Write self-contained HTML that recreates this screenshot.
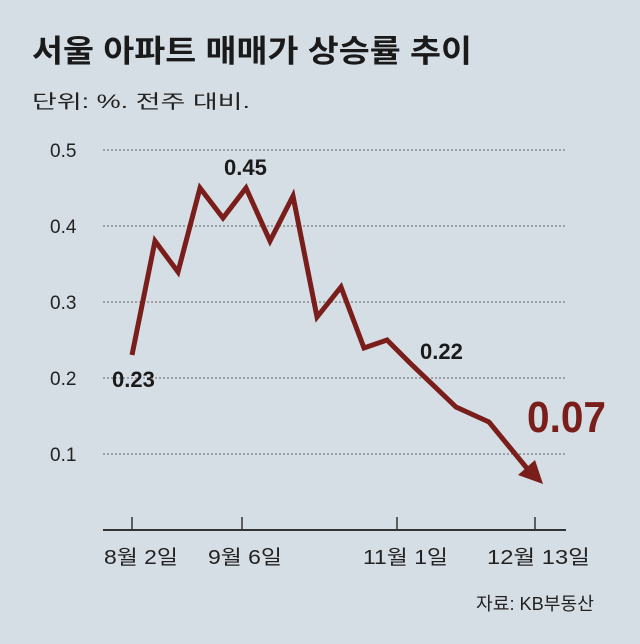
<!DOCTYPE html>
<html><head><meta charset="utf-8"><style>
body{margin:0;width:640px;height:644px;background:#d6dee5;overflow:hidden}
svg{display:block}
text{font-family:"Liberation Sans","Noto Sans CJK KR",sans-serif}
</style></head><body>
<svg width="640" height="644" viewBox="0 0 640 644">
<rect width="640" height="644" fill="#d6dee5"/>
<text x="32" y="62" font-size="31" font-weight="bold" fill="#1a1a1a" textLength="440" lengthAdjust="spacingAndGlyphs">서울 아파트 매매가 상승률 추이</text>
<text x="32" y="108" font-size="19" fill="#222" textLength="218" lengthAdjust="spacingAndGlyphs">단위: %. 전주 대비.</text>
<g stroke="#666" stroke-width="1" stroke-dasharray="2,2">
<line x1="103" y1="150" x2="566" y2="150"/>
<line x1="103" y1="226" x2="566" y2="226"/>
<line x1="103" y1="302" x2="566" y2="302"/>
<line x1="103" y1="378" x2="566" y2="378"/>
<line x1="103" y1="454" x2="566" y2="454"/>
</g>
<g font-size="19" fill="#222">
<text x="50" y="157">0.5</text><text x="50" y="233">0.4</text><text x="50" y="309">0.3</text><text x="50" y="385">0.2</text><text x="50" y="461">0.1</text>
</g>
<line x1="103" y1="530" x2="566" y2="530" stroke="#333" stroke-width="2"/>
<g stroke="#333" stroke-width="1.5">
<line x1="132" y1="517" x2="132" y2="530"/><line x1="242" y1="517" x2="242" y2="530"/>
<line x1="397" y1="517" x2="397" y2="530"/><line x1="535" y1="517" x2="535" y2="530"/>
</g>
<g font-size="20" fill="#222" lengthAdjust="spacingAndGlyphs">
<text x="104" y="564" textLength="74" lengthAdjust="spacingAndGlyphs">8월 2일</text>
<text x="208" y="564" textLength="74" lengthAdjust="spacingAndGlyphs">9월 6일</text>
<text x="363" y="564" textLength="85" lengthAdjust="spacingAndGlyphs">11월 1일</text>
<text x="487" y="564" textLength="103" lengthAdjust="spacingAndGlyphs">12월 13일</text>
</g>
<polyline fill="none" stroke="#7a1e1b" stroke-width="5" stroke-linejoin="miter"
points="132,355 155,241 178,272 200,188 223,218 246,188 270,241 293,196 317,317 341,287 364,348 387,340 410,363 456,407 489,422 530,472"/>
<polygon points="543,484 518,475 535,460" fill="#7a1e1b"/>
<g font-size="22" font-weight="bold" fill="#1a1a1a">
<text x="112" y="387">0.23</text>
<text x="224" y="175">0.45</text>
<text x="420" y="359">0.22</text>
</g>
<text x="527" y="432" font-size="44" font-weight="bold" fill="#7a1e1b" textLength="79" lengthAdjust="spacingAndGlyphs">0.07</text>
<text x="476" y="610" font-size="18" fill="#222" textLength="118" lengthAdjust="spacingAndGlyphs">자료: KB부동산</text>
</svg>
</body></html>
